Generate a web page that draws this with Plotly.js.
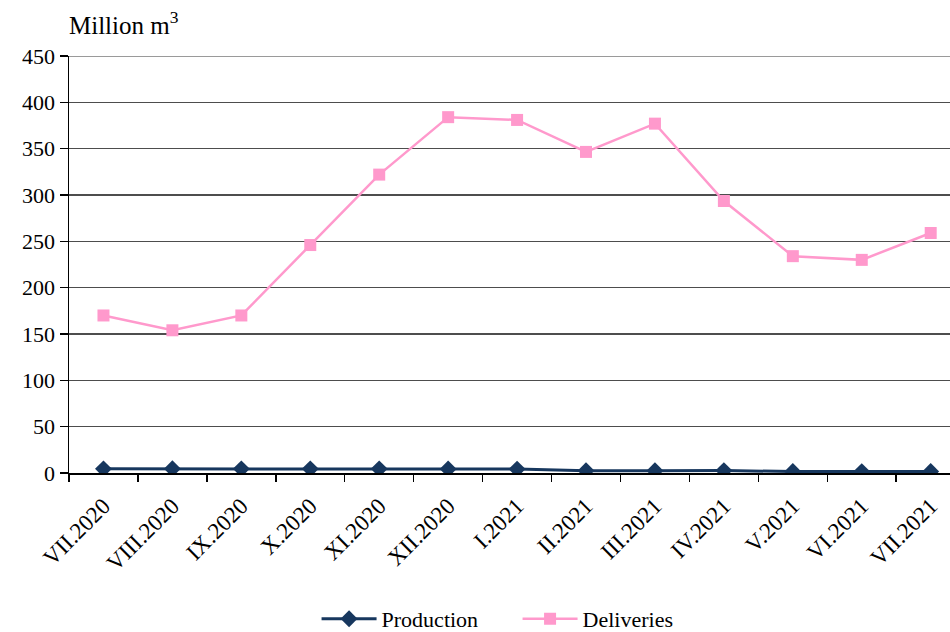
<!DOCTYPE html>
<html>
<head>
<meta charset="utf-8">
<script src="https://cdn.plot.ly/plotly-3.0.1.min.js"></script>
<style>
html,body{margin:0;padding:0;background:#fff;}
#chart{width:950px;height:632px;}
</style>
</head>
<body>
<div id="chart"></div>
<script>
const months = ["VII.2020","VIII.2020","IX.2020","X.2020","XI.2020","XII.2020","I.2021","II.2021","III.2021","IV.2021","V.2021","VI.2021","VII.2021"];
const production = [4.5, 4.6, 4.5, 4.5, 4.5, 4.3, 4.2, 2.5, 2.4, 2.6, 1.6, 1.5, 1.6];
const deliveries = [170, 154, 170, 246, 322, 384, 381, 346.5, 377, 293.5, 234, 230, 259];
const yTicks = [0, 50, 100, 150, 200, 250, 300, 350, 400, 450];

const serif = "Liberation Serif, Times New Roman, serif";

const traces = [
  {
    x: months, y: production, name: "Production", type: "scatter", mode: "lines+markers",
    line: {color: "#17375E", width: 3},
    marker: {symbol: "diamond", size: 13, color: "#17375E"}
  },
  {
    x: months, y: deliveries, name: "Deliveries", type: "scatter", mode: "lines+markers",
    line: {color: "#FF99CC", width: 2.5},
    marker: {symbol: "square", size: 12, color: "#FF99CC"}
  }
];

const layout = {
  width: 950, height: 632,
  margin: {l: 69, r: 0, t: 56, b: 159, autoexpand: false},
  paper_bgcolor: "#fff", plot_bgcolor: "#fff",
  font: {family: serif, color: "#000", size: 21},
  title: {
    text: "Million m<sup>3</sup>",
    font: {family: serif, size: 25, color: "#000"},
    xref: "paper", x: 0, xanchor: "left",
    yref: "container", y: 1 - 25/632, yanchor: "middle"
  },
  showlegend: true,
  legend: {
    orientation: "h", x: 0.281, xanchor: "left", y: -0.35, yanchor: "middle",
    font: {family: serif, size: 22, color: "#000"},
    itemwidth: 55, entrywidth: 131, entrywidthmode: "pixels", tracegroupgap: 0
  },
  xaxis: {
    type: "category",
    categoryorder: "array", categoryarray: months,
    range: [-0.5, 12.28],
    automargin: false,
    showgrid: false, zeroline: false,
    showline: true, linecolor: "#000", linewidth: 1.5,
    ticks: "outside", tickson: "boundaries", ticklen: 7, tickcolor: "#000", tickwidth: 1.5,
    tickangle: -45, ticklabelstandoff: 9,
    tickfont: {family: serif, size: 23, color: "#000"}
  },
  yaxis: {
    range: [0, 450],
    tickvals: yTicks,
    automargin: false,
    showgrid: true, gridcolor: "#4d4d4d", gridwidth: 1.5,
    zeroline: false,
    showline: true, linecolor: "#000", linewidth: 1.5,
    ticks: "outside", ticklen: 8, tickcolor: "#000", tickwidth: 1.5,
    tickfont: {family: serif, size: 22, color: "#000"}
  },
  shapes: [
    {type: "line", xref: "paper", yref: "y", x0: 0, x1: 1, y0: 450, y1: 450,
     line: {color: "#9a9a9a", width: 2}, layer: "above"}
  ]
};

Plotly.newPlot("chart", traces, layout, {displayModeBar: false, staticPlot: true});
</script>
</body>
</html>
